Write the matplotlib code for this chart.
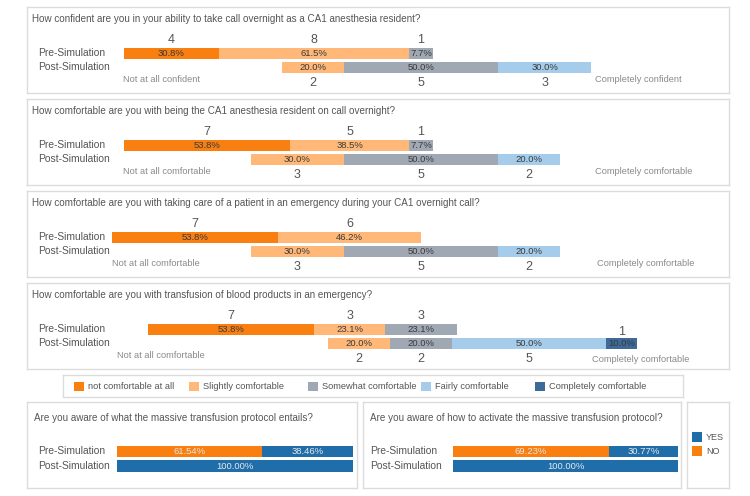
import matplotlib
matplotlib.use("Agg")
import matplotlib.pyplot as plt
from matplotlib.patches import Rectangle

plt.rcParams['font.family'] = ['Liberation Sans Narrow', 'Liberation Sans', 'DejaVu Sans']

# ---------------- data ----------------
categories = ['not comfortable at all', 'Slightly comfortable', 'Somewhat comfortable',
              'Fairly comfortable', 'Completely comfortable']
cat_colors = ['#F97F10', '#FFB877', '#A0A8B4', '#A5CCEA', '#3D6A99']

questions = [
    "How confident are you in your ability to take call overnight as a CA1 anesthesia resident?",
    "How comfortable are you with being the CA1 anesthesia resident on call overnight?",
    "How comfortable are you with taking care of a patient in an emergency during your CA1 overnight call?",
    "How comfortable are you with transfusion of blood products in an emergency?",
]
low_labels = ["Not at all confident", "Not at all comfortable", "Not at all comfortable", "Not at all comfortable"]
high_labels = ["Completely confident", "Completely comfortable", "Completely comfortable", "Completely comfortable"]

pre_counts = [[4, 8, 1, 0, 0], [7, 5, 1, 0, 0], [7, 6, 0, 0, 0], [7, 3, 3, 0, 0]]
pre_pct = [[30.8, 61.5, 7.7, 0, 0], [53.8, 38.5, 7.7, 0, 0], [53.8, 46.2, 0, 0, 0], [53.8, 23.1, 23.1, 0, 0]]
post_counts = [[0, 2, 5, 3, 0], [0, 3, 5, 2, 0], [0, 3, 5, 2, 0], [0, 2, 2, 5, 1]]
post_pct = [[0, 20.0, 50.0, 30.0, 0], [0, 30.0, 50.0, 20.0, 0], [0, 30.0, 50.0, 20.0, 0], [0, 20.0, 20.0, 50.0, 10.0]]

groups = ['Pre-Simulation', 'Post-Simulation']

yn_questions = ["Are you aware of what the massive transfusion protocol entails?",
                "Are you aware of how to activate the massive transfusion protocol?"]
yn_labels = ['YES', 'NO']
yn_colors = {'YES': '#1F6EAA', 'NO': '#F97F10'}
no_pct = [[61.54, 0.0], [69.23, 0.0]]     # [pre, post]
yes_pct = [[38.46, 100.0], [30.77, 100.0]]

# ---------------- layout helpers ----------------
W, H = 750, 496
fig = plt.figure(figsize=(W / 100, H / 100), dpi=100)
fig.patch.set_facecolor('white')


def px_axes(x0, y0, x1, y1):
    return fig.add_axes([x0 / W, 1 - y1 / H, (x1 - x0) / W, (y1 - y0) / H])


def style_box(ax):
    ax.set_xticks([])
    ax.set_yticks([])
    for s in ax.spines.values():
        s.set_color('#DCDCDC')
        s.set_linewidth(1.0)


TXT = '#555555'
PCT_TXT = '#3A3A3A'
TITLE_FS = 7.1
ROW_FS = 7.4
COUNT_FS = 9

# ---------------- diverging panels ----------------
box_x0, box_x1 = 27, 729
center_px, px_per_pct = 421, 3.09
box_h = 86
tops = [7, 99, 191, 283]
low_x_px = [123, 123, 112, 117]
high_x_px = [595, 595, 597, 592]
high_dy = [0, 0, 0, 4]

for qi in range(4):
    top = tops[qi]
    ax = px_axes(box_x0, top, box_x1, top + box_h)
    style_box(ax)
    ax.set_xlim((box_x0 - center_px) / px_per_pct, (box_x1 - center_px) / px_per_pct)
    ax.set_ylim(box_h, 0)
    to_data = lambda px: (px - center_px) / px_per_pct

    ax.text(to_data(32), 12, questions[qi], fontsize=TITLE_FS, color=TXT, va='center', ha='left')

    rows = [(pre_pct[qi], pre_counts[qi], 46.5), (post_pct[qi], post_counts[qi], 60.5)]
    for ri, (pcts, cnts, yc) in enumerate(rows):
        left = -(pcts[0] + pcts[1] + pcts[2] / 2.0)
        ax.text(to_data(38), yc, groups[ri], fontsize=ROW_FS, color=TXT, va='center', ha='left')
        for ci in range(5):
            w = pcts[ci]
            if w <= 0:
                continue
            ax.barh(yc, w, left=left, height=11.5, color=cat_colors[ci], linewidth=0)
            mid = left + w / 2
            ax.text(mid, yc + 0.5, f"{w:.1f}%", fontsize=6.8, color=PCT_TXT, ha='center', va='center')
            if ri == 0:
                ax.text(mid, 33, str(cnts[ci]), fontsize=COUNT_FS, color=TXT, ha='center', va='center')
            else:
                mid_px = center_px + mid * px_per_pct
                if mid_px > high_x_px[qi] - 5:
                    ax.text(mid, 49, str(cnts[ci]), fontsize=COUNT_FS, color=TXT, ha='center', va='center')
                else:
                    ax.text(mid, 75.5, str(cnts[ci]), fontsize=COUNT_FS, color=TXT, ha='center', va='center')
            left += w

    ax.text(to_data(low_x_px[qi]), 73, low_labels[qi], fontsize=6.7, color='#8A8A8A', ha='left', va='center')
    ax.text(to_data(high_x_px[qi]), 73 + high_dy[qi], high_labels[qi], fontsize=6.7, color='#8A8A8A',
            ha='left', va='center')

# ---------------- category legend ----------------
lax = px_axes(63, 375, 683, 397)
style_box(lax)
lax.set_xlim(63, 683)
lax.set_ylim(22, 0)
marker_x = [74, 189, 308, 421, 535]
for ci, cat in enumerate(categories):
    lax.add_patch(Rectangle((marker_x[ci], 7), 10, 9, color=cat_colors[ci], lw=0))
    lax.text(marker_x[ci] + 14, 11.5, cat, fontsize=6.7, color=TXT, ha='left', va='center')

# ---------------- yes / no panels ----------------
yn_boxes = [(27, 357, 117, 353, 7, 11), (363, 681, 453, 678, 7, 7)]
for qi in range(2):
    bx0, bx1, b0, b100, tdx, rdx = yn_boxes[qi]
    ax = px_axes(bx0, 402, bx1, 488)
    style_box(ax)
    s = (b100 - b0) / 100.0
    ax.set_xlim((bx0 - b0) / s, (bx1 - b0) / s)
    ax.set_ylim(86, 0)
    ax.text((bx0 + tdx - b0) / s, 16, yn_questions[qi], fontsize=TITLE_FS, color=TXT, ha='left', va='center')
    for ri, yc in enumerate([49.5, 64]):
        ax.text((bx0 + rdx - b0) / s, yc, groups[ri], fontsize=ROW_FS, color=TXT, ha='left', va='center')
        left = 0.0
        for lab, vals in (('NO', no_pct[qi]), ('YES', yes_pct[qi])):
            w = vals[ri]
            if w <= 0:
                continue
            ax.barh(yc, w, left=left, height=11.5, color=yn_colors[lab], linewidth=0)
            ax.text(left + w / 2, yc + 0.5, f"{w:.2f}%", fontsize=6.8, color='#E8E8E8',
                    ha='center', va='center')
            left += w

# small YES/NO legend
yax = px_axes(687, 402, 729, 488)
style_box(yax)
yax.set_xlim(687, 729)
yax.set_ylim(488, 402)
for i, lab in enumerate(yn_labels):
    y0 = 432 + i * 14
    yax.add_patch(Rectangle((692, y0), 10, 10, color=yn_colors[lab], lw=0))
    yax.text(706, y0 + 5, lab, fontsize=6.5, color=TXT, ha='left', va='center')

fig.savefig('out.png', dpi=100, facecolor='white')
